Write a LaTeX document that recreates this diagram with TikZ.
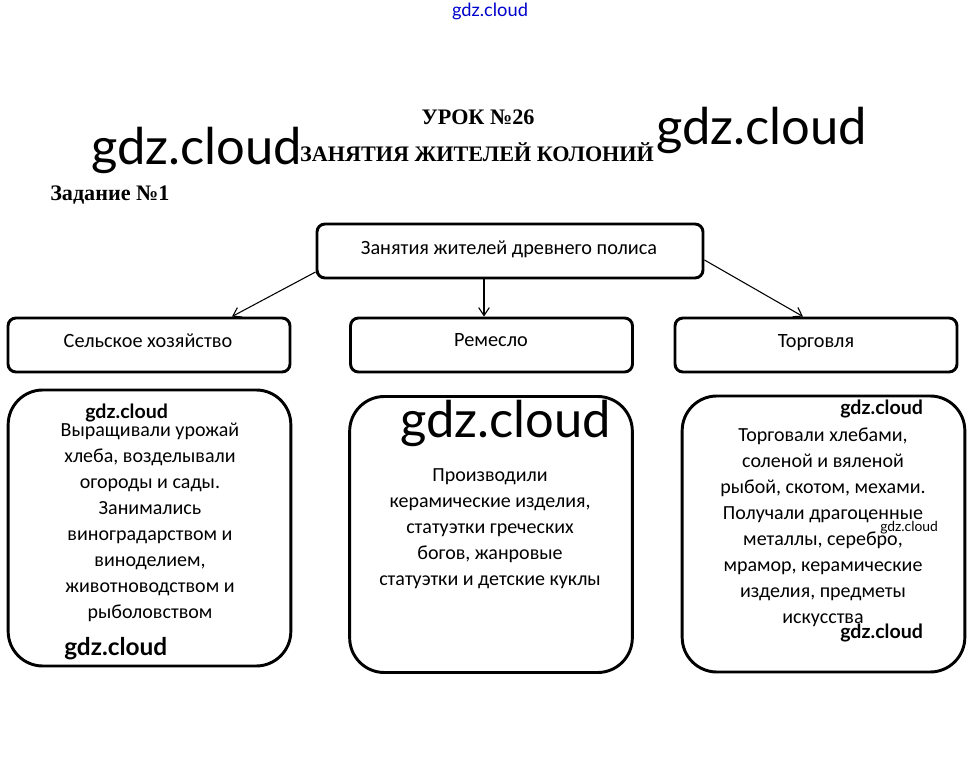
\documentclass[tikz,border=0pt]{standalone}
\usepackage{fontspec}
\setmainfont{Carlito}
\newfontfamily\tnr{Liberation Serif}
\newfontfamily\wm{Lato}
\usetikzlibrary{arrows.meta}
\begin{document}
\begin{tikzpicture}[x=0.75pt,y=-0.75pt,
  box/.style={draw, line width=2.2pt, rounded corners=6pt, inner sep=0pt},
  headbox/.style={box, minimum width=211.5pt, minimum height=40.5pt},
  bigbox/.style={draw, line width=2.2pt, rounded corners=26pt, minimum width=212pt, minimum height=207pt, inner sep=0pt},
  headtxt/.style={font=\fontsize{15.2}{17}\selectfont, anchor=base, inner sep=0pt},
  bodytxt/.style={font=\fontsize{15}{19.4}\selectfont, align=center, anchor=base, inner sep=0pt},
  ttl/.style={font=\tnr\bfseries\fontsize{16.6}{18}\selectfont, anchor=base, inner sep=0pt},
  wmbig/.style={font=\wm\fontsize{38}{42}\selectfont, anchor=base west, inner sep=0pt},
  wmsmall/.style={font=\wm\bfseries\fontsize{14.7}{16}\selectfont, anchor=base west, inner sep=0pt},
  link/.style={line width=0.8pt, -{Straight Barb[length=6pt,width=8pt]}}
]
\useasboundingbox (0,0) rectangle (978,777);
\fill[white] (0,0) rectangle (978,777);

% watermarks / titles
\node[font=\wm\fontsize{13.7}{15}\selectfont, text=blue!80!black, anchor=base, inner sep=0pt] (wmtop) at (490,17) {gdz.cloud};
\node[ttl] (lesson) at (478,125) {УРОК №26};
\node[ttl] (title) at (477,162) {ЗАНЯТИЯ ЖИТЕЛЕЙ КОЛОНИЙ};
\node[ttl, anchor=base west] (task) at (50,201) {Задание №1};
\node[wmbig] (wm1) at (91,165) {gdz.cloud};
\node[wmbig] (wm2) at (656,145) {gdz.cloud};

% boxes
\node[box, minimum width=289.5pt, minimum height=40.5pt] (top) at (510,251) {};
\node[headtxt] (toptxt) at (509,255) {Занятия жителей древнего полиса};

\node[headbox] (agri) at (149,345) {};
\node[headtxt] (agritxt) at (148,347) {Сельское хозяйство};
\node[headbox] (craft) at (491.5,345) {};
\node[headtxt] (crafttxt) at (491,346) {Ремесло};
\node[headbox] (trade) at (816,345) {};
\node[headtxt] (tradetxt) at (816,347) {Торговля};

\node[bigbox] (agribody) at (149.5,528) {};
\node[bigbox] (craftbody) at (491,534.5) {};
\node[bigbox] (tradebody) at (823.5,534) {};

\node[bodytxt] (agritext) at (150,618) {Выращивали урожай\\хлеба, возделывали\\огороды и сады.\\Занимались\\виноградарством и\\виноделием,\\животноводством и\\рыболовством};
\node[bodytxt] (crafttext) at (490,585) {Производили\\керамические изделия,\\статуэтки греческих\\богов, жанровые\\статуэтки и детские куклы};
\node[bodytxt] (tradetext) at (823,623) {Торговали хлебами,\\соленой и вяленой\\рыбой, скотом, мехами.\\Получали драгоценные\\металлы, серебро,\\мрамор, керамические\\изделия, предметы\\искусства};

% body watermarks
\node[wmsmall] (wm3) at (85,418) {gdz.cloud};
\node[wmsmall, font=\wm\bfseries\fontsize{18.3}{20}\selectfont] (wm4) at (64,655) {gdz.cloud};
\node[wmbig] (wm5) at (400,437) {gdz.cloud};
\node[wmsmall] (wm6) at (840,414) {gdz.cloud};
\node[wmsmall, font=\wm\fontsize{10.4}{12}\selectfont] (wm7) at (880,531) {gdz.cloud};
\node[wmsmall] (wm8) at (840,638) {gdz.cloud};

% connectors
\draw[link] ([yshift=-15.75pt]top.west) -- ([xshift=62.25pt]agri.north);
\draw[link] ([xshift=-19.5pt]top.south) -- ([xshift=-19.5pt]top.south |- craft.north);
\draw[link] ([yshift=-6.75pt]top.east) -- ([xshift=-9.75pt]trade.north);
\end{tikzpicture}
\end{document}
